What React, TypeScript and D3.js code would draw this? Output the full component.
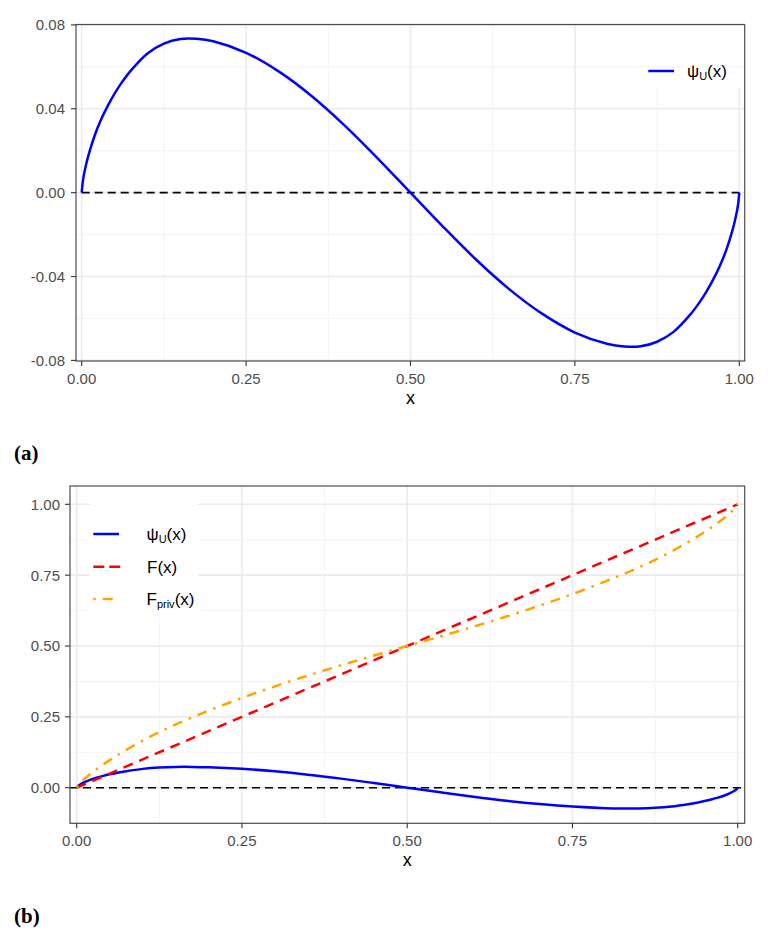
import React from "react";
import * as d3 from "d3";

const X_VALUES = [0, 0.002, 0.005, 0.01, 0.02, 0.03, 0.04, 0.05, 0.06, 0.075, 0.1, 0.125, 0.15, 0.175, 0.2, 0.25, 0.3, 0.35, 0.4, 0.45, 0.5, 0.55, 0.6, 0.65, 0.7, 0.75, 0.8, 0.825, 0.85, 0.875, 0.9, 0.925, 0.94, 0.95, 0.96, 0.97, 0.98, 0.99, 0.995, 0.998, 1];
const PSI_VALUES = [0, 0.006, 0.011, 0.0175, 0.0275, 0.0352, 0.0416, 0.0472, 0.0521, 0.0583, 0.0664, 0.0711, 0.0733, 0.0734, 0.0722, 0.0667, 0.0577, 0.046, 0.032, 0.0164, 0, -0.0164, -0.032, -0.046, -0.0577, -0.0667, -0.0722, -0.0734, -0.0733, -0.0711, -0.0664, -0.0583, -0.0521, -0.0472, -0.0416, -0.0352, -0.0275, -0.0175, -0.011, -0.006, 0];
const FPRIV_VALUES = [0, 0.008, 0.016, 0.0275, 0.0475, 0.0652, 0.0816, 0.0972, 0.1121, 0.1333, 0.1664, 0.1961, 0.2233, 0.2484, 0.2722, 0.3167, 0.3577, 0.396, 0.432, 0.4664, 0.5, 0.5336, 0.568, 0.604, 0.6423, 0.6833, 0.7278, 0.7516, 0.7767, 0.8039, 0.8336, 0.8667, 0.8879, 0.9028, 0.9184, 0.9348, 0.9525, 0.9725, 0.984, 0.992, 1];
const F_X = [0, 0.25, 0.5, 0.75, 1];
const F_VALUES = [0, 0.25, 0.5, 0.75, 1];

const X_TICKS = [0, 0.25, 0.5, 0.75, 1];
const X_TICK_LABELS = ["0.00", "0.25", "0.50", "0.75", "1.00"];
const X_MINOR = [0.125, 0.375, 0.625, 0.875];
const YA_TICKS = [-0.08, -0.04, 0, 0.04, 0.08];
const YA_TICK_LABELS = ["-0.08", "-0.04", "0.00", "0.04", "0.08"];
const YA_MINOR = [-0.06, -0.02, 0.02, 0.06];
const YB_TICKS = [0, 0.25, 0.5, 0.75, 1];
const YB_TICK_LABELS = ["0.00", "0.25", "0.50", "0.75", "1.00"];
const YB_MINOR = [0.125, 0.375, 0.625, 0.875];

const FONT = "'Liberation Sans', Arial, Helvetica, sans-serif";
const BLUE = "#0000FF";
const RED = "#FF0000";
const ORANGE = "#FFA500";

type PanelProps = {
  px0: number; px1: number; py0: number; py1: number;
  x: d3.ScaleLinear<number, number>;
  y: d3.ScaleLinear<number, number>;
  yTicks: number[]; yLabels: string[]; yMinor: number[];
  labelRight: number; xLabelBase: number; xTitleBase: number;
  legendBox: [number, number, number, number];
  hLinesAfterBox?: boolean;
  children?: React.ReactNode;
  legend?: React.ReactNode;
};

function Panel(p: PanelProps) {
  const vgrid = (
    <g>
      {X_MINOR.map((v) => (
        <line key={"xm" + v} x1={p.x(v)} x2={p.x(v)} y1={p.py0} y2={p.py1} stroke="#f2f2f2" strokeWidth={0.9} />
      ))}
      {X_TICKS.map((v) => (
        <line key={"xM" + v} x1={p.x(v)} x2={p.x(v)} y1={p.py0} y2={p.py1} stroke="#ebebeb" strokeWidth={1.6} />
      ))}
    </g>
  );
  const hgrid = (
    <g>
      {p.yMinor.map((v) => (
        <line key={"ym" + v} x1={p.px0} x2={p.px1} y1={p.y(v)} y2={p.y(v)} stroke="#f2f2f2" strokeWidth={0.9} />
      ))}
      {p.yTicks.map((v) => (
        <line key={"yM" + v} x1={p.px0} x2={p.px1} y1={p.y(v)} y2={p.y(v)} stroke="#ebebeb" strokeWidth={1.6} />
      ))}
    </g>
  );
  const [bx, by, bw, bh] = p.legendBox;
  return (
    <g>
      {vgrid}
      {!p.hLinesAfterBox && hgrid}
      <rect x={bx} y={by} width={bw} height={bh} fill="#ffffff" />
      {p.hLinesAfterBox && hgrid}
      {p.children}
      <rect x={p.px0} y={p.py0} width={p.px1 - p.px0} height={p.py1 - p.py0} fill="none" stroke="#4d4d4d" strokeWidth={1.2} />
      {p.yTicks.map((v, i) => (
        <g key={"yt" + v}>
          <line x1={p.px0 - 5} x2={p.px0} y1={p.y(v)} y2={p.y(v)} stroke="#333" strokeWidth={1.1} />
          <text x={p.labelRight} y={p.y(v)} dy="0.36em" textAnchor="end" fontFamily={FONT} fontSize={15} fill="#4d4d4d">
            {p.yLabels[i]}
          </text>
        </g>
      ))}
      {X_TICKS.map((v, i) => (
        <g key={"xt" + v}>
          <line x1={p.x(v)} x2={p.x(v)} y1={p.py1} y2={p.py1 + 5} stroke="#333" strokeWidth={1.1} />
          <text x={p.x(v)} y={p.xLabelBase} textAnchor="middle" fontFamily={FONT} fontSize={15} fill="#4d4d4d">
            {X_TICK_LABELS[i]}
          </text>
        </g>
      ))}
      <text x={p.x(0.5)} y={p.xTitleBase} textAnchor="middle" fontFamily={FONT} fontSize={18} fill="#000">
        x
      </text>
      {p.legend}
    </g>
  );
}

function PsiLabel({ x, y }: { x: number; y: number }) {
  return (
    <text x={x} y={y} dy="0.36em" fontFamily={FONT} fontSize={17} fill="#000">
      ψ<tspan fontSize={11} dy={3}>U</tspan>
      <tspan dy={-3}>(x)</tspan>
    </text>
  );
}

export default function App() {
  const xA = d3.scaleLinear().domain([0, 1]).range([81.7, 739.3]);
  const yA = d3.scaleLinear().domain([-0.08, 0.08]).range([360.4, 24.9]);
  const xB = d3.scaleLinear().domain([0, 1]).range([76.7, 737.7]);
  const yB = d3.scaleLinear().domain([0, 1]).range([787.7, 504.3]);

  const smooth = d3.curveCatmullRom.alpha(0.5);
  const idx = X_VALUES.map((_, i) => i);
  const lineA = d3.line<number>().x((i) => xA(X_VALUES[i])).y((i) => yA(PSI_VALUES[i])).curve(smooth);
  const psiB = d3.line<number>().x((i) => xB(X_VALUES[i])).y((i) => yB(PSI_VALUES[i])).curve(smooth);
  const privB = d3.line<number>().x((i) => xB(X_VALUES[i])).y((i) => yB(FPRIV_VALUES[i])).curve(smooth);
  const fB = d3.line<number>().x((i) => xB(F_X[i])).y((i) => yB(F_VALUES[i]));

  const dotdash = "2.5,7,10,7";
  const dashed = "10,7";

  return (
    <svg width={768} height={934} style={{ position: "absolute", left: 0, top: 0, display: "block", background: "#fff" }}>
      <rect x={0} y={0} width={768} height={934} fill="#fff" />
      <Panel
        px0={76} px1={744.7} py0={24.5} py1={361}
        x={xA} y={yA}
        yTicks={YA_TICKS} yLabels={YA_TICK_LABELS} yMinor={YA_MINOR}
        labelRight={65} xLabelBase={383.5} xTitleBase={404}
        legendBox={[640, 25, 103, 63]}
        hLinesAfterBox={true}
        legend={
          <g>
            <line x1={648.3} x2={674} y1={71} y2={71} stroke={BLUE} strokeWidth={2.5} />
            <PsiLabel x={687} y={71} />
          </g>
        }
      >
        <line x1={xA(0)} x2={xA(1)} y1={yA(0)} y2={yA(0)} stroke="#000" strokeWidth={1.6} strokeDasharray="8,5" />
        <path d={lineA(idx) || ""} fill="none" stroke={BLUE} strokeWidth={2.5} />
      </Panel>

      <Panel
        px0={70} px1={744.7} py0={486} py1={823.3}
        x={xB} y={yB}
        yTicks={YB_TICKS} yLabels={YB_TICK_LABELS} yMinor={YB_MINOR}
        labelRight={60} xLabelBase={845.5} xTitleBase={866}
        legendBox={[90, 487, 108, 130]}
        legend={
          <g>
            <line x1={93.3} x2={119} y1={534} y2={534} stroke={BLUE} strokeWidth={2.5} />
            <PsiLabel x={146.5} y={534} />
            <line x1={93.3} x2={123} y1={566.7} y2={566.7} stroke={RED} strokeWidth={2.5} strokeDasharray="11,5" />
            <text x={147} y={566.7} dy="0.36em" fontFamily={FONT} fontSize={17} fill="#000">F(x)</text>
            <line x1={93.3} x2={119} y1={599} y2={599} stroke={ORANGE} strokeWidth={2.5} strokeDasharray="2.5,7,10,7" />
            <text x={146.5} y={599} dy="0.36em" fontFamily={FONT} fontSize={17} fill="#000">
              F<tspan fontSize={11} dy={3}>priv</tspan>
              <tspan dy={-3}>(x)</tspan>
            </text>
          </g>
        }
      >
        <line x1={70} x2={744.7} y1={yB(0)} y2={yB(0)} stroke="#000" strokeWidth={1.6} strokeDasharray="8,5" />
        <path d={psiB(idx) || ""} fill="none" stroke={BLUE} strokeWidth={2.5} />
        <path d={fB(F_X.map((_, i) => i)) || ""} fill="none" stroke={RED} strokeWidth={2.5} strokeDasharray={dashed} />
        <path d={privB(idx) || ""} fill="none" stroke={ORANGE} strokeWidth={2.5} strokeDasharray={dotdash} />
      </Panel>

      <text x={14} y={460} fontFamily="'Liberation Serif', 'DejaVu Serif', serif" fontWeight="bold" fontSize={21} fill="#000">(a)</text>
      <text x={14} y={923} fontFamily="'Liberation Serif', 'DejaVu Serif', serif" fontWeight="bold" fontSize={21} fill="#000">(b)</text>
    </svg>
  );
}
